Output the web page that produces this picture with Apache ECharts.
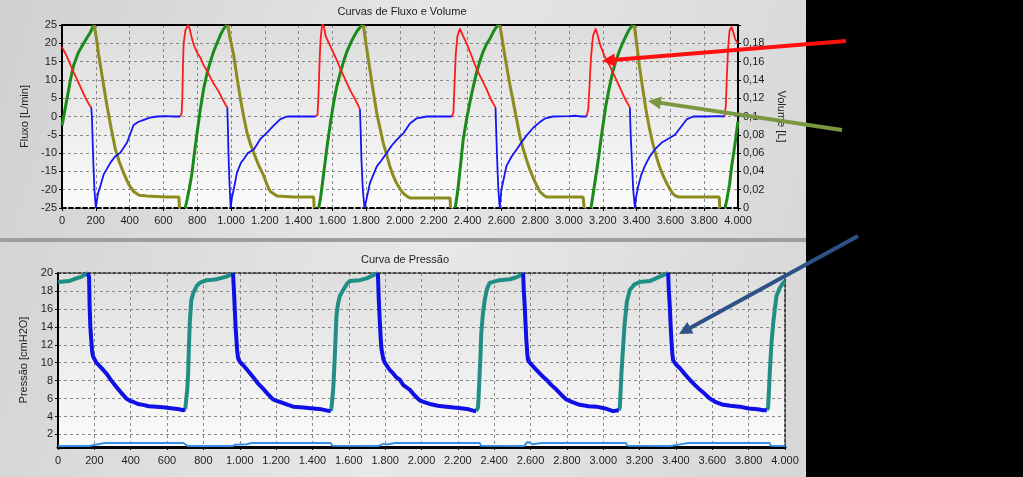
<!DOCTYPE html>
<html>
<head>
<meta charset="utf-8">
<script src="https://cdn.jsdelivr.net/npm/echarts@6/dist/echarts.min.js"></script>
<style>html,body{margin:0;padding:0;background:#000;}#c{width:1023px;height:477px;}</style>
</head>
<body>
<div id="c"></div>
<script>
// ---------- DATA (time in ms) ----------
const xTicksMax = 4000;
const flowTicks = [-25, 25, 5];
const volTicks = [0, 0.2, 0.02];
const pressTickLabels = [2, 4, 6, 8, 10, 12, 14, 16, 18, 20];

// Flow, inspiration (red) [ms, L/min]
const flowInsp = [
  [[0,19],[30,16.3],[51,14],[70,12],[95,9.5],[115,7.5],[140,5],[160,3.3],[173,2.5]],
  [[700,0],[708,1],[712,5],[716,14],[720,20],[730,23.5],[745,25],[755,24],[765,22],[780,19.5],[799,17.5],[820,16],[838,14],[864,12],[897,9],[925,7],[947,5],[970,3],[978,2.5]],
  [[1499,0],[1512,0.5],[1518,6],[1524,15],[1530,21],[1540,25.5],[1550,24.5],[1560,22],[1580,20],[1600,18],[1625,15.5],[1647,13],[1677,10],[1707,7],[1737,4.5],[1763,2]],
  [[2306,0],[2316,1],[2322,8],[2330,17],[2340,22],[2355,24],[2368,22.5],[2394,20],[2420,17],[2453,13],[2480,10.5],[2512,7.5],[2540,4.5],[2565,2.5]],
  [[3104,0],[3114,2],[3122,9],[3130,16],[3142,22],[3158,24],[3168,22.5],[3185,19.5],[3210,16.5],[3240,14],[3270,11],[3300,8],[3330,5],[3360,2.5]],
  [[3920,0],[3928,3],[3935,12],[3942,19],[3950,23.5],[3962,24.5],[3972,23],[3985,21],[4000,20]]
];
// Flow, expiration (blue) [ms, L/min]
const flowExp = [
  [[173,2.5],[177,0],[181,-6],[185,-12],[192,-20],[200,-25],[207,-24.5],[213,-21],[227,-19],[247,-15.8],[287,-12.6],[313,-11],[345,-9.9],[385,-7.1],[402,-5],[415,-3.4],[424,-2.3],[450,-1.5],[484,-0.9],[520,-0.3],[562,0],[620,0.1],[660,0],[700,0]],
  [[978,2.5],[981,-2],[985,-10],[990,-17],[998,-25],[1006,-22],[1016,-20],[1035,-15.4],[1060,-12.5],[1075,-11.7],[1100,-10],[1135,-9],[1173,-6.2],[1213,-4.4],[1252,-2.5],[1292,-0.7],[1332,0],[1420,0],[1499,0]],
  [[1763,2],[1768,-5],[1772,-12],[1780,-20],[1790,-25],[1800,-23],[1822,-18.2],[1862,-13.7],[1890,-12],[1921,-10],[1950,-8],[1980,-6.4],[2020,-4.6],[2059,-1.9],[2099,-0.5],[2158,0],[2250,0],[2306,0]],
  [[2565,2.5],[2570,-5],[2575,-12],[2582,-20],[2590,-25],[2600,-20],[2630,-13.5],[2660,-11],[2690,-9],[2720,-7],[2747,-5.3],[2790,-3],[2826,-1.6],[2860,-0.5],[2905,0],[3000,0.1],[3043,0.2],[3070,0],[3104,0]],
  [[3360,2.5],[3365,-5],[3372,-12],[3380,-20],[3390,-25],[3397,-22],[3410,-19],[3427,-16],[3449,-13.5],[3477,-11],[3508,-9],[3547,-7.2],[3590,-6],[3627,-5],[3660,-3],[3696,-0.8],[3735,0],[3820,0],[3880,0.1],[3920,0]]
];
// Volume, rising (green) [ms, L]
const volRise = [
  [[0,0.09],[29,0.119],[50,0.14],[69,0.156],[97,0.17],[128,0.18],[168,0.192],[187,0.2]],
  [[729,0],[740,0.009],[754,0.022],[769,0.038],[782,0.058],[799,0.082],[818,0.107],[838,0.13],[858,0.147],[878,0.16],[897,0.171],[917,0.18],[937,0.189],[957,0.196],[976,0.2]],
  [[1519,0],[1529,0.01],[1539,0.024],[1554,0.046],[1569,0.068],[1590,0.095],[1608,0.116],[1626,0.133],[1647,0.148],[1666,0.16],[1686,0.171],[1707,0.18],[1726,0.187],[1748,0.194],[1766,0.198],[1778,0.2]],
  [[2326,0],[2335,0.01],[2345,0.024],[2360,0.05],[2374,0.075],[2394,0.097],[2414,0.116],[2434,0.133],[2453,0.148],[2472,0.16],[2492,0.171],[2512,0.179],[2532,0.185],[2551,0.192],[2571,0.198],[2583,0.2]],
  [[3130,0],[3140,0.012],[3159,0.035],[3175,0.055],[3189,0.075],[3204,0.094],[3218,0.112],[3238,0.131],[3258,0.148],[3278,0.161],[3297,0.171],[3317,0.18],[3337,0.188],[3356,0.195],[3378,0.2]],
  [[3923,0],[3935,0.01],[3950,0.026],[3962,0.045],[3972,0.057],[3986,0.075],[4000,0.095]]
];
// Volume, falling (olive) [ms, L]
const volFall = [
  [[190,0.2],[203,0.186],[215,0.17],[227,0.156],[247,0.133],[266,0.112],[291,0.087],[316,0.064],[340,0.05],[365,0.038],[394,0.026],[424,0.018],[457,0.014],[503,0.013],[620,0.012],[692,0.012],[695,0]],
  [[980,0.2],[995,0.185],[1016,0.167],[1036,0.142],[1056,0.119],[1075,0.1],[1095,0.082],[1115,0.07],[1135,0.06],[1163,0.047],[1194,0.035],[1214,0.025],[1233,0.018],[1272,0.013],[1370,0.012],[1489,0.012],[1492,0]],
  [[1783,0.2],[1800,0.178],[1822,0.151],[1842,0.127],[1862,0.104],[1882,0.087],[1901,0.071],[1921,0.058],[1941,0.045],[1960,0.035],[1980,0.027],[2000,0.021],[2020,0.016],[2040,0.013],[2059,0.011],[2200,0.011],[2296,0.011],[2299,0]],
  [[2590,0.2],[2600,0.19],[2615,0.172],[2630,0.156],[2650,0.135],[2670,0.116],[2690,0.097],[2709,0.079],[2728,0.065],[2748,0.053],[2768,0.042],[2788,0.033],[2808,0.025],[2827,0.018],[2850,0.014],[2867,0.012],[3000,0.012],[3083,0.012],[3090,0]],
  [[3386,0.2],[3400,0.18],[3416,0.156],[3435,0.132],[3455,0.108],[3475,0.088],[3494,0.072],[3514,0.058],[3534,0.046],[3553,0.037],[3573,0.029],[3593,0.022],[3613,0.016],[3632,0.013],[3652,0.012],[3800,0.012],[3889,0.012],[3892,0]]
];
// Pressure, rising (teal) [ms, cmH2O]
const pressRise = [
  [[0,19],[30,19.05],[60,19.1],[101,19.4],[130,19.6],[156,19.9],[165,20]],
  [[700,4.8],[706,5],[711,7],[716,8.8],[720,11.5],[725,14.4],[730,16],[734,17],[745,17.8],[752,18.1],[765,18.6],[780,18.9],[817,19.2],[850,19.25],[872,19.3],[900,19.45],[927,19.6],[963,19.95]],
  [[1500,4.6],[1505,5],[1514,7],[1523,10.7],[1532,15.2],[1540,16.5],[1550,17.4],[1569,18.1],[1590,18.8],[1606,19.1],[1661,19.2],[1697,19.4],[1730,19.7],[1752,19.9],[1760,20]],
  [[2300,4.6],[2311,5],[2316,7],[2320,8.8],[2325,11],[2329,13.3],[2338,15.5],[2348,17],[2360,18.2],[2375,18.9],[2430,19.2],[2485,19.3],[2520,19.5],[2540,19.7],[2559,20]],
  [[3085,4.7],[3091,5],[3096,7],[3100,8.8],[3110,12],[3118,14.4],[3130,16.8],[3146,18.1],[3170,18.7],[3201,19],[3256,19.1],[3290,19.4],[3311,19.6],[3340,19.85],[3357,20]],
  [[3900,4.7],[3907,5],[3912,7],[3916,8.8],[3925,12],[3935,14.4],[3944,16],[3953,17.4],[3970,18.3],[3990,18.9],[4000,19.1]]
];
// Pressure, falling (blue) [ms, cmH2O]
const pressFall = [
  [[165,20],[171,19.5],[174,16.3],[178,14],[183,12.5],[188,11.2],[193,10.7],[211,10],[240,9.4],[266,8.8],[294,8],[321,7.3],[350,6.6],[376,6],[400,5.7],[413,5.65],[440,5.4],[468,5.3],[500,5.15],[541,5.1],[590,5],[633,4.9],[670,4.8],[688,4.7],[700,4.8]],
  [[963,20],[968,18],[972,16.3],[977,14],[982,12.5],[986,11.3],[991,10.5],[1000,10.1],[1018,9.75],[1045,9.1],[1073,8.4],[1100,7.7],[1128,7.1],[1155,6.5],[1183,5.9],[1210,5.7],[1239,5.5],[1266,5.3],[1294,5.1],[1350,5],[1404,4.9],[1450,4.8],[1495,4.6],[1500,4.6]],
  [[1760,20],[1765,17],[1771,14.4],[1776,12.5],[1780,11.5],[1790,10.4],[1798,10],[1825,9.2],[1844,8.8],[1860,8.4],[1880,8.1],[1900,7.5],[1935,7],[1960,6.4],[1990,5.8],[2015,5.6],[2045,5.4],[2090,5.2],[2137,5.1],[2180,5],[2229,4.9],[2260,4.8],[2293,4.6],[2300,4.6]],
  [[2559,20],[2563,18],[2568,16.3],[2572,14.5],[2577,12.5],[2582,11],[2586,10.3],[2600,9.9],[2632,9.2],[2660,8.6],[2687,8.1],[2715,7.5],[2742,7],[2770,6.4],[2797,5.9],[2830,5.6],[2870,5.3],[2920,5.15],[2962,5.1],[3010,4.9],[3054,4.6],[3085,4.7]],
  [[3357,20],[3361,18],[3366,16.3],[3370,14.5],[3375,12.5],[3380,11],[3384,10.3],[3400,9.8],[3421,9.4],[3450,8.7],[3476,8.1],[3505,7.5],[3531,7],[3560,6.5],[3586,6],[3620,5.6],[3660,5.3],[3700,5.2],[3751,5.1],[3800,4.9],[3850,4.8],[3880,4.7],[3900,4.7]]
];
// Auxiliary trace near the bottom (light blue) [ms, value]
const pressAux = [[0,0.7],[170,0.7],[178,0.85],[220,0.9],[240,1.0],[260,1.04],[690,1.04],[700,1.0],[710,0.75],[730,0.7],[800,0.72],[850,0.7],[960,0.7],[975,0.85],[1040,0.9],[1064,1.04],[1500,1.04],[1510,0.75],[1760,0.7],[1765,0.85],[1790,0.95],[1810,0.88],[1840,1.0],[1853,1.04],[2320,1.04],[2328,0.75],[2565,0.7],[2570,0.9],[2580,1.12],[2595,1.1],[2610,0.9],[2640,1.0],[2659,1.04],[3125,1.04],[3132,0.75],[3370,0.7],[3378,0.85],[3440,0.95],[3466,1.04],[3915,1.04],[3922,0.75],[4000,0.7]];

// ---------- helpers ----------
function joinSegs(segs){
  const out = [];
  segs.forEach((s,i)=>{ if(i>0) out.push([s[0][0], null]); s.forEach(p=>out.push(p)); });
  return out;
}
function fmtX(v){
  if (v < 1000) return String(v);
  const th = Math.floor(v/1000), r = Math.round(v % 1000);
  return th + '.' + String(r).padStart(3,'0');
}
function fmtVol(v){
  if (Math.abs(v - 0.2) < 1e-9) return '';
  return String(+v.toFixed(2)).replace('.', ',');
}
function arrow(x1,y1,x2,y2,color){
  const dx=x2-x1, dy=y2-y1, L=Math.hypot(dx,dy), ux=dx/L, uy=dy/L;
  const hl=13, hw=6.5;
  const bx=x2-ux*hl, by=y2-uy*hl;
  return [
    {type:'line', z:100, shape:{x1:x1,y1:y1,x2:bx+ux*2,y2:by+uy*2}, style:{stroke:color,lineWidth:4}},
    {type:'polygon', z:100, shape:{points:[[x2,y2],[bx-uy*hw,by+ux*hw],[bx+uy*hw,by-ux*hw]]}, style:{fill:color}}
  ];
}

const FONT = 'Liberation Sans';
const txt = {color:'#1e1e1e', fontSize:11, fontFamily:FONT};
const gridDash = {show:true, lineStyle:{color:'#8a8a8a', width:1, type:[3,3]}};
const G1 = {left:62, top:25, width:676, height:183};
const G2 = {left:58, top:273, width:727, height:174};

const chart = echarts.init(document.getElementById('c'), null, {renderer:'canvas'});
const option = {
  backgroundColor:'#000',
  animation:false,
  textStyle:{fontFamily:FONT},
  graphic:[
    {type:'rect', z:-20, shape:{x:0,y:0,width:806,height:238},
     style:{fill:new echarts.graphic.LinearGradient(0,0,1,1,[{offset:0,color:'#d0d0d0'},{offset:0.5,color:'#e6e6e6'},{offset:1,color:'#d8d8d8'}])}},
    {type:'rect', z:-20, shape:{x:0,y:238,width:806,height:4}, style:{fill:'#9d9d9d'}},
    {type:'rect', z:-20, shape:{x:0,y:242,width:806,height:235},
     style:{fill:new echarts.graphic.LinearGradient(0,0,1,1,[{offset:0,color:'#d4d4d4'},{offset:0.5,color:'#e8e8e8'},{offset:1,color:'#d6d6d6'}])}},
    {type:'rect', z:-19, shape:{x:G1.left,y:G1.top,width:G1.width,height:G1.height},
     style:{fill:new echarts.graphic.LinearGradient(0,0,0,1,[{offset:0,color:'#dcdcdc'},{offset:1,color:'#fbfbfb'}])}},
    {type:'rect', z:-19, shape:{x:G2.left,y:G2.top,width:G2.width,height:G2.height},
     style:{fill:new echarts.graphic.LinearGradient(0,0,0,1,[{offset:0,color:'#dedede'},{offset:1,color:'#fbfbfb'}])}},
    {type:'text', z:10, style:{text:'Curvas de Fluxo e Volume', x:402, y:12, align:'center', verticalAlign:'middle', fill:'#1e1e1e', font:'11px "Liberation Sans"'}},
    {type:'text', z:10, style:{text:'Curva de Pressão', x:405, y:260, align:'center', verticalAlign:'middle', fill:'#1e1e1e', font:'11px "Liberation Sans"'}},
    ...arrow(846,41,602,61,'#ff1010'),
    ...arrow(842,130,648,101,'#7a9840'),
    ...arrow(858,236,679,334,'#2d5286')
  ],
  grid:[
    Object.assign({containLabel:false}, G1),
    Object.assign({containLabel:false}, G2)
  ],
  xAxis:[
    {gridIndex:0, type:'value', min:0, max:xTicksMax, interval:200, position:'bottom',
     axisLine:{onZero:false, lineStyle:{color:'#000', width:2, type:[4,3]}},
     axisTick:{show:true, length:3, lineStyle:{color:'#000'}},
     axisLabel:Object.assign({formatter:fmtX, margin:7}, txt),
     splitLine:gridDash},
    {gridIndex:0, type:'value', min:0, max:xTicksMax, position:'top',
     axisLine:{onZero:false, lineStyle:{color:'#000', width:2}},
     axisTick:{show:false}, axisLabel:{show:false}, splitLine:{show:false}},
    {gridIndex:1, type:'value', min:0, max:xTicksMax, interval:200, position:'bottom',
     axisLine:{onZero:false, lineStyle:{color:'#000', width:3}},
     axisTick:{show:true, length:3, lineStyle:{color:'#000'}},
     axisLabel:Object.assign({formatter:fmtX, margin:8}, txt),
     splitLine:gridDash},
    {gridIndex:1, type:'value', min:0, max:xTicksMax, position:'top',
     axisLine:{onZero:false, lineStyle:{color:'#222', width:1.5, type:[3,2]}},
     axisTick:{show:false}, axisLabel:{show:false}, splitLine:{show:false}}
  ],
  yAxis:[
    {gridIndex:0, type:'value', min:flowTicks[0], max:flowTicks[1], interval:flowTicks[2], position:'left',
     name:'Fluxo [L/min]', nameLocation:'middle', nameGap:21, nameTextStyle:txt,
     axisLine:{show:true, onZero:false, lineStyle:{color:'#000', width:2}},
     axisTick:{show:true, length:3, lineStyle:{color:'#000'}},
     axisLabel:Object.assign({margin:5}, txt),
     splitLine:gridDash},
    {gridIndex:0, type:'value', min:volTicks[0], max:volTicks[1], interval:volTicks[2], position:'right',
     name:'Volume [L]', nameLocation:'middle', nameGap:27, nameRotate:-90, nameTextStyle:txt,
     axisLine:{show:true, onZero:false, lineStyle:{color:'#000', width:2}},
     axisTick:{show:true, length:3, lineStyle:{color:'#000'}},
     axisLabel:Object.assign({formatter:fmtVol, margin:5}, txt),
     splitLine:{show:false}},
    {gridIndex:1, type:'value', min:0.6, max:20, position:'left',
     name:'Pressão [cmH2O]', nameLocation:'middle', nameGap:19, nameTextStyle:txt,
     axisLine:{show:true, onZero:false, lineStyle:{color:'#000', width:2}},
     axisTick:{show:true, length:3, lineStyle:{color:'#000'}, customValues:pressTickLabels},
     axisLabel:Object.assign({margin:5, customValues:pressTickLabels}, txt),
     splitLine:gridDash},
    {gridIndex:1, type:'value', min:0.6, max:20, position:'right',
     axisLine:{show:true, onZero:false, lineStyle:{color:'#222', width:1.5, type:[3,2]}},
     axisTick:{show:false}, axisLabel:{show:false}, splitLine:{show:false}}
  ],
  series:[
    {name:'Volume (insp.)', type:'line', xAxisIndex:0, yAxisIndex:1, data:joinSegs(volRise), showSymbol:false, connectNulls:false, lineStyle:{color:'#1a8a1a', width:3}, z:2},
    {name:'Volume (exp.)', type:'line', xAxisIndex:0, yAxisIndex:1, data:joinSegs(volFall), showSymbol:false, connectNulls:false, lineStyle:{color:'#8c8c1e', width:3}, z:2},
    {name:'Fluxo (insp.)', type:'line', xAxisIndex:0, yAxisIndex:0, data:joinSegs(flowInsp), showSymbol:false, connectNulls:false, lineStyle:{color:'#ff1a1a', width:1.8}, z:3},
    {name:'Fluxo (exp.)', type:'line', xAxisIndex:0, yAxisIndex:0, data:joinSegs(flowExp), showSymbol:false, connectNulls:false, lineStyle:{color:'#1515f5', width:1.8}, z:3},
    {name:'Aux', type:'line', xAxisIndex:2, yAxisIndex:2, data:pressAux, showSymbol:false, lineStyle:{color:'#3a8ee6', width:2}, z:2},
    {name:'Pressão (insp.)', type:'line', xAxisIndex:2, yAxisIndex:2, data:joinSegs(pressRise), showSymbol:false, connectNulls:false, lineStyle:{color:'#1f8f86', width:4}, z:3},
    {name:'Pressão (exp.)', type:'line', xAxisIndex:2, yAxisIndex:2, data:joinSegs(pressFall), showSymbol:false, connectNulls:false, lineStyle:{color:'#1010e6', width:4}, z:3}
  ]
};
chart.setOption(option);
</script>
</body>
</html>
